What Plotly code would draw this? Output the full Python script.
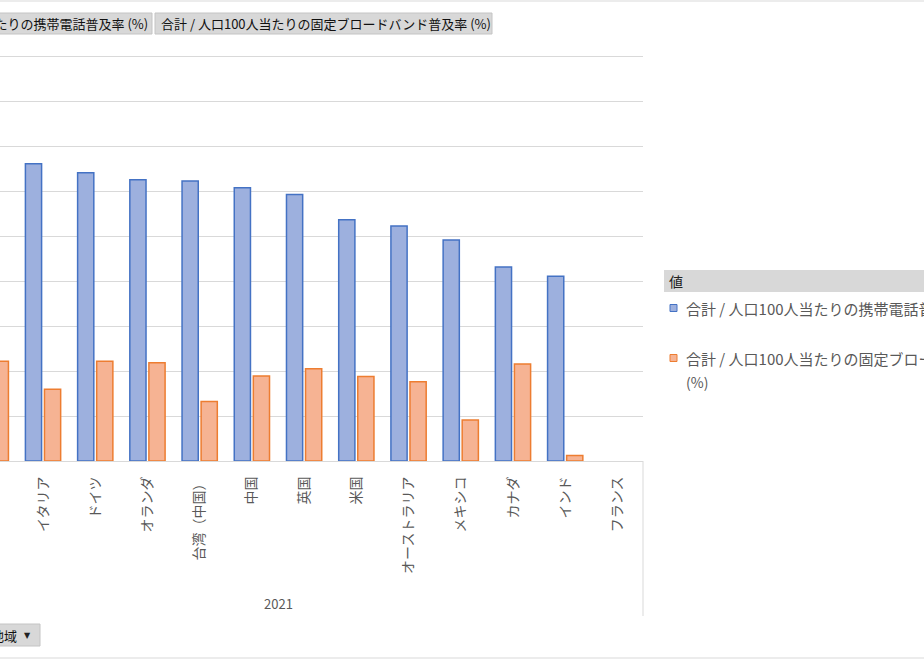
import plotly.graph_objects as go

# ---------------- data ----------------
categories = ["韓国", "イタリア", "ドイツ", "オランダ", "台湾（中国）", "中国", "英国", "米国",
              "オーストラリア", "メキシコ", "カナダ", "インド", "フランス"]
mobile = [141.0, 132.1, 128.1, 125.0, 124.4, 121.5, 118.5, 107.2, 104.4, 98.2, 86.2, 82.1, None]
broadband = [44.3, 31.9, 44.3, 43.7, 26.5, 37.8, 41.0, 37.6, 35.2, 18.2, 43.1, 2.5, None]
series_names = ["合計 / 人口100人当たりの携帯電話普及率 (%)",
                "合計 / 人口100人当たりの固定ブロードバンド普及率 (%)"]
year_label = "2021"

W, H = 924, 660
FONT = "Noto Sans CJK JP"
GRAY_TXT = "#595959"


def px(x):
    return x / W


def py(y):
    return 1 - y / H


fig = go.Figure()
fig.add_trace(go.Bar(x=categories, y=mobile, name=series_names[0],
                     marker=dict(color="#9DB0DE", line=dict(color="#4472C4", width=1.5)),
                     showlegend=False))
fig.add_trace(go.Bar(x=categories, y=broadband, name=series_names[1],
                     marker=dict(color="#F6B393", line=dict(color="#ED7D31", width=1.5)),
                     showlegend=False))

shapes = []
annotations = []

# chart frame lines
shapes.append(dict(type="line", xref="paper", yref="paper", x0=0, x1=1, y0=py(1), y1=py(1),
                   line=dict(color="#D9D9D9", width=1)))
shapes.append(dict(type="line", xref="paper", yref="paper", x0=0, x1=1, y0=py(658), y1=py(658),
                   line=dict(color="#D9D9D9", width=1)))
# category-axis group divider
shapes.append(dict(type="line", xref="paper", yref="paper", x0=px(643), x1=px(643),
                   y0=py(461), y1=py(616), line=dict(color="#D9D9D9", width=1)))


def button(x0, x1, y0, y1):
    shapes.append(dict(type="rect", xref="paper", yref="paper", x0=px(x0), x1=px(x1),
                       y0=py(y1), y1=py(y0), fillcolor="#D8D8D8",
                       line=dict(color="#C4C4C4", width=1), layer="above"))


# field buttons at top
button(-10, 152, 13, 34)
annotations.append(dict(xref="paper", yref="paper", x=px(150), y=py(23.5), xanchor="right",
                        yanchor="middle", showarrow=False, text=series_names[0],
                        font=dict(family=FONT, size=13, color="#111111")))
button(155, 492, 13, 34)
annotations.append(dict(xref="paper", yref="paper", x=px(159), y=py(23.5), xanchor="left",
                        yanchor="middle", showarrow=False, text=series_names[1],
                        font=dict(family=FONT, size=13, color="#111111")))

# bottom field button
button(-10, 40, 624, 646)
annotations.append(dict(xref="paper", yref="paper", x=px(19), y=py(635), xanchor="right",
                        yanchor="middle", showarrow=False, text="地域",
                        font=dict(family=FONT, size=13, color="#111111")))
annotations.append(dict(xref="paper", yref="paper", x=px(27.5), y=py(635), xanchor="center",
                        yanchor="middle", showarrow=False, text="▼",
                        font=dict(family="DejaVu Sans", size=8, color="#222222")))

# legend
shapes.append(dict(type="rect", xref="paper", yref="paper", x0=px(664), x1=px(930),
                   y0=py(292), y1=py(270), fillcolor="#D8D8D8",
                   line=dict(color="#D8D8D8", width=0)))
annotations.append(dict(xref="paper", yref="paper", x=px(667), y=py(281), xanchor="left",
                        yanchor="middle", showarrow=False, text="値",
                        font=dict(family=FONT, size=14, color="#222222")))
legend_items = [(308, "#9DB0DE", "#4472C4", series_names[0]),
                (358, "#F6B393", "#ED7D31", "合計 / 人口100人当たりの固定ブロードバンド普及率")]
for yy, fc, lc, txt in legend_items:
    shapes.append(dict(type="rect", xref="paper", yref="paper", x0=px(670), x1=px(677),
                       y0=py(yy + 3.5), y1=py(yy - 3.5), fillcolor=fc,
                       line=dict(color=lc, width=1)))
    annotations.append(dict(xref="paper", yref="paper", x=px(684), y=py(yy), xanchor="left",
                            yanchor="middle", showarrow=False, text=txt,
                            font=dict(family=FONT, size=15, color=GRAY_TXT)))
annotations.append(dict(xref="paper", yref="paper", x=px(684), y=py(382), xanchor="left",
                        yanchor="middle", showarrow=False, text="(%)",
                        font=dict(family=FONT, size=14, color=GRAY_TXT)))

# group label
annotations.append(dict(xref="x", yref="paper", x=5.5, y=py(603), xanchor="center",
                        yanchor="middle", showarrow=False, text=year_label,
                        font=dict(family=FONT, size=13, color=GRAY_TXT)))

fig.update_layout(
    width=W, height=H,
    margin=dict(l=0, r=0, t=0, b=0),
    paper_bgcolor="white", plot_bgcolor="white",
    barmode="group", bargap=0.27, bargroupgap=0.15,
    showlegend=False,
    shapes=shapes, annotations=annotations,
    font=dict(family=FONT, color=GRAY_TXT),
    xaxis=dict(domain=[0, px(643)], range=[0.176, 12.49], type="category",
               categoryorder="array", categoryarray=categories,
               tickangle=-90, tickfont=dict(family=FONT, size=14, color=GRAY_TXT),
               showline=True, linecolor="#D9D9D9", linewidth=1, showgrid=False,
               ticks="", ticklabelstandoff=9, zeroline=False),
    yaxis=dict(domain=[py(461), py(53.75)], range=[0, 181], dtick=20,
               showgrid=True, gridcolor="#D9D9D9", gridwidth=1,
               showticklabels=False, zeroline=False, showline=False),
)

fig.write_html("out.html")
